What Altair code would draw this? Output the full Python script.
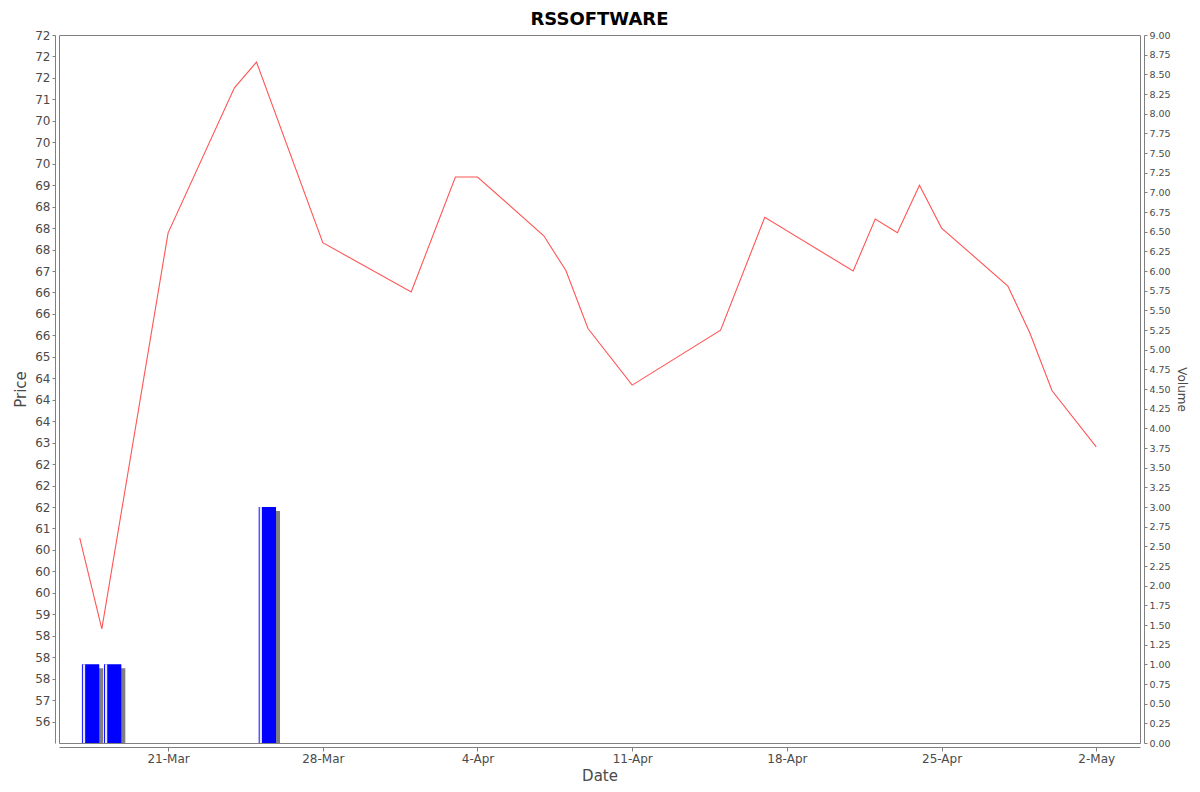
import altair as alt
import pandas as pd

TITLE = "RSSOFTWARE"

PRICE_DATES = [
    "2025-03-17", "2025-03-18", "2025-03-21", "2025-03-24", "2025-03-25",
    "2025-03-28", "2025-04-01", "2025-04-03", "2025-04-04", "2025-04-07",
    "2025-04-08", "2025-04-09", "2025-04-11", "2025-04-15", "2025-04-17",
    "2025-04-21", "2025-04-22", "2025-04-23", "2025-04-24", "2025-04-25",
    "2025-04-28", "2025-04-29", "2025-04-30", "2025-05-02",
]
PRICES = [
    60.78, 58.66, 67.89, 71.27, 71.87,
    67.66, 66.51, 69.19, 69.19, 67.82,
    67.01, 65.66, 64.34, 65.62, 68.25,
    67.00, 68.21, 67.89, 69.00, 68.00,
    66.65, 65.55, 64.21, 62.90,
]

VOLUME_DATES = ["2025-03-17", "2025-03-18", "2025-03-25"]
VOLUMES = [1.0, 1.0, 3.0]

PRICE_TICKS = [
    56.5, 57.0, 57.5, 58.0, 58.5, 59.0, 59.5, 60.0, 60.5, 61.0, 61.5,
    62.0, 62.5, 63.0, 63.5, 64.0, 64.5, 65.0, 65.5, 66.0, 66.5, 67.0,
    67.5, 68.0, 68.5, 69.0, 69.5, 70.0, 70.5, 71.0, 71.5, 72.0, 72.5,
]
PRICE_TICK_LABELS = [
    "56", "57", "58", "58", "58", "59", "60", "60", "60", "61", "62",
    "62", "62", "63", "64", "64", "64", "65", "66", "66", "66", "67",
    "68", "68", "68", "69", "70", "70", "70", "71", "72", "72", "72",
]
PRICE_DOMAIN = [56.0, 72.5]

VOLUME_TICKS = [i * 0.25 for i in range(37)]
VOLUME_DOMAIN = [0, 9]

DATE_TICKS = ["2025-03-21", "2025-03-28", "2025-04-04", "2025-04-11",
              "2025-04-18", "2025-04-25", "2025-05-02"]

# ---------------------------------------------------------------- data frames
price_df = pd.DataFrame({
    "date": [d + "T00:00:00Z" for d in PRICE_DATES],
    "price": PRICES,
})

vol_days = pd.to_datetime(VOLUME_DATES)
fmt = "%Y-%m-%dT%H:%M:%SZ"
vol_df = pd.DataFrame({
    "start": [(d + pd.Timedelta(hours=2.4)).strftime(fmt) for d in vol_days],
    "end": [(d + pd.Timedelta(hours=21.2)).strftime(fmt) for d in vol_days],
    "hl0": [(d + pd.Timedelta(hours=3.4)).strftime(fmt) for d in vol_days],
    "hl1": [(d + pd.Timedelta(hours=5.9)).strftime(fmt) for d in vol_days],
    "volume": VOLUMES,
})

x_domain = [
    alt.DateTime(year=2025, month=3, date=16, hours=1, minutes=30, utc=True),
    alt.DateTime(year=2025, month=5, date=3, hours=23, minutes=30, utc=True),
]
x_ticks = [
    alt.DateTime(year=int(d[:4]), month=int(d[5:7]), date=int(d[8:10]), utc=True)
    for d in DATE_TICKS
]

FONT = "DejaVu Sans"
GRAY = "#808080"
TXT = "#4a4a4a"

x_enc = alt.X(
    "date:T",
    scale=alt.Scale(type="utc", domain=x_domain),
    axis=alt.Axis(
        title="Date", values=x_ticks, format="%-d-%b", offset=4,
        tickSize=4, labelPadding=2, labelFontSize=12, titleFontSize=15,
        titlePadding=4, labelFont=FONT, titleFont=FONT, titleFontWeight="normal",
        grid=False, labelOverlap=False,
    ),
)

ticks_js = "[" + ",".join(str(v) for v in PRICE_TICKS) + "]"
labels_js = "[" + ",".join("'" + s + "'" for s in PRICE_TICK_LABELS) + "]"
price_label_expr = f"{labels_js}[indexof({ticks_js}, datum.value)]"

line = alt.Chart(price_df).mark_line(color="#FF5555", strokeWidth=1.1).encode(
    x=x_enc,
    y=alt.Y(
        "price:Q",
        scale=alt.Scale(domain=PRICE_DOMAIN, nice=False, zero=False),
        axis=alt.Axis(
            title="Price", orient="left", values=PRICE_TICKS,
            labelExpr=price_label_expr, offset=4, tickSize=3, labelPadding=2,
            labelFontSize=12, titleFontSize=15, titlePadding=6,
            labelFont=FONT, titleFont=FONT, titleFontWeight="normal",
            grid=False, labelOverlap=False,
        ),
    ),
)

vol_y_scale = alt.Scale(domain=VOLUME_DOMAIN, nice=False)


def vol_axis():
    return alt.Axis(
        title="Volume", orient="right", values=VOLUME_TICKS, format=".2f",
        offset=4, tickSize=3, labelPadding=2, labelFontSize=9.5,
        titleFontSize=12, titlePadding=4, labelFont=FONT, titleFont=FONT,
        titleFontWeight="normal", grid=False, labelOverlap=False,
    )


shadow = alt.Chart(vol_df).mark_rect(
    color=GRAY, xOffset=4, x2Offset=4, yOffset=4, y2Offset=4, clip=True
).encode(
    x=alt.X("start:T"), x2="end:T",
    y=alt.Y("volume:Q", scale=vol_y_scale, axis=vol_axis()),
    y2=alt.datum(0),
)

bars = alt.Chart(vol_df).mark_rect(color="#0000FF").encode(
    x=alt.X("start:T"), x2="end:T",
    y=alt.Y("volume:Q", scale=vol_y_scale, axis=vol_axis()),
    y2=alt.datum(0),
)

stripe = alt.Chart(vol_df).mark_rect(color="#FFFFFF", opacity=0.9).encode(
    x=alt.X("hl0:T"), x2="hl1:T",
    y=alt.Y("volume:Q", scale=vol_y_scale, axis=vol_axis()),
    y2=alt.datum(0),
)

volume_layer = alt.layer(shadow, bars, stripe)

chart = alt.layer(volume_layer, line).resolve_scale(y="independent").properties(
    width=1081,
    height=708,
    title=alt.TitleParams(
        TITLE, fontSize=18, font=FONT, fontWeight="bold", anchor="middle",
        color="#000000", offset=10, baseline="bottom", frame="group", dy=28,
    ),
    padding={"left": 51, "top": 27, "right": 52, "bottom": 41},
    autosize=alt.AutoSizeParams(type="none"),
    background="white",
).configure_view(
    stroke=GRAY, strokeWidth=1,
).configure_axis(
    grid=False, domainColor=GRAY, tickColor=GRAY, labelColor=TXT,
    titleColor=TXT,
)

chart.save("out.html", embed_options={"renderer": "svg", "actions": False})
